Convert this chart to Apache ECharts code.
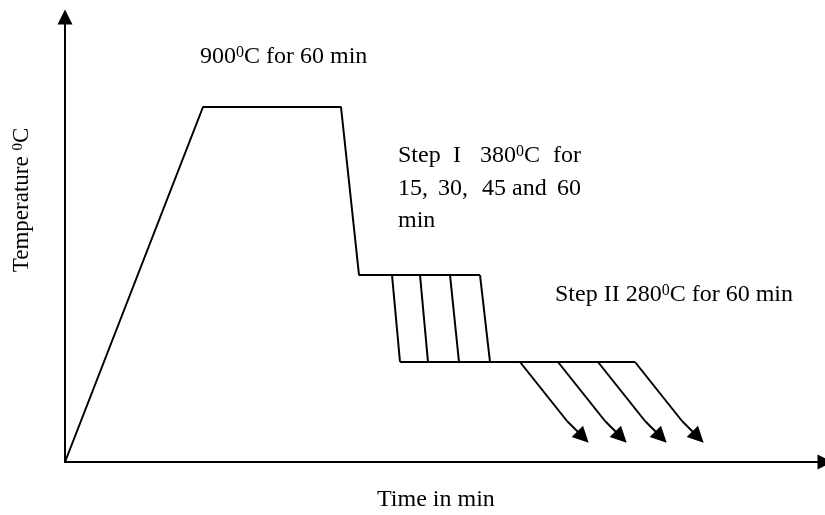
<!DOCTYPE html>
<html>
<head>
<meta charset="utf-8">
<script src="https://cdn.jsdelivr.net/npm/echarts@6/dist/echarts.min.js"></script>
<style>
html,body{margin:0;padding:0;background:#fff;}
#c{width:825px;height:515px;}
</style>
</head>
<body>
<div id="c"></div>
<script>
// Schematic units (time, temperature)
const X_MAX = 760, Y_MAX = 445;
const heatProfile = [[0, 0], [138, 355], [276, 355], [294, 187], [415, 187]];
const stepILevel = 187;
const stepIILevel = 100;
const stepIQuenchTop = [327, 355, 385, 415];
const stepIQuenchBottom = [335, 363, 394, 425];
const stepIIHold = [[335, 100], [570, 100]];
const arrowStart = [455, 493, 533, 570];
const arrowBendDx = 47, arrowBendY = 41;
const arrowHeadDx = 63, arrowHeadY = 25;

const FONT = '"Liberation Serif", "Times New Roman", serif';
const BLACK = '#000';

const series = [];
series.push({
  type: 'line', data: heatProfile, showSymbol: false, silent: true,
  lineStyle: { color: BLACK, width: 2 }
});
stepIQuenchTop.forEach((t, i) => {
  series.push({
    type: 'line', data: [[t, stepILevel], [stepIQuenchBottom[i], stepIILevel]],
    showSymbol: false, silent: true, lineStyle: { color: BLACK, width: 2 }
  });
});
series.push({
  type: 'line', data: stepIIHold, showSymbol: false, silent: true,
  lineStyle: { color: BLACK, width: 2 }
});
arrowStart.forEach(s => {
  series.push({
    type: 'line', data: [[s, stepIILevel], [s + arrowBendDx, arrowBendY]],
    showSymbol: false, silent: true, lineStyle: { color: BLACK, width: 2 }
  });
});
series.push({
  type: 'lines', coordinateSystem: 'cartesian2d', silent: true,
  symbol: ['none', 'triangle'], symbolSize: 16,
  lineStyle: { color: BLACK, width: 2, opacity: 1, curveness: 0 },
  data: arrowStart.map(s => ({ coords: [[s + arrowBendDx, arrowBendY], [s + arrowHeadDx, arrowHeadY]] }))
});

const supRich = {
  a: { fontSize: 24, fontFamily: FONT, color: BLACK },
  s: { fontSize: 16, fontFamily: FONT, color: BLACK, verticalAlign: 'top' }
};
function txt(x, y, text, extra) {
  return Object.assign({
    type: 'text', x: x, y: y, silent: true,
    style: { text: text, fontSize: 24, fontFamily: FONT, fill: BLACK, align: 'left', verticalAlign: 'middle', rich: supRich }
  }, extra || {});
}

const stepIWords = [
  [398, 156, 'Step'], [453, 156, 'I'], [480, 156, '{a|380}{s|0}{a|C}'], [553, 156, 'for'],
  [398, 189, '15,'], [438, 189, '30,'], [482, 189, '45'], [512, 189, 'and'], [557, 189, '60'],
  [398, 221, 'min']
];

const yRich = {
  a: { fontSize: 23, fontFamily: FONT, color: BLACK },
  s: { fontSize: 15, fontFamily: FONT, color: BLACK, verticalAlign: 'top' }
};

const graphic = [
  txt(200, 57, '{a|900}{s|0}{a|C for 60 min}'),
  txt(555, 295, '{a|Step II 280}{s|0}{a|C for 60 min}'),
  txt(377, 500, 'Time in min'),
  { type: 'text', x: 22, y: 200, rotation: Math.PI / 2, silent: true,
    style: { text: '{a|Temperature }{s|0}{a|C}', fill: BLACK, align: 'center', verticalAlign: 'middle', rich: yRich } }
].concat(stepIWords.map(w => txt(w[0], w[1], w[2])));

const chart = echarts.init(document.getElementById('c'), null, { renderer: 'canvas' });
chart.setOption({
  backgroundColor: '#fff',
  animation: false,
  grid: { left: 65, right: 0, top: 17, bottom: 53, containLabel: false },
  xAxis: {
    type: 'value', min: 0, max: X_MAX,
    axisLine: { show: true, symbol: ['none', 'triangle'], symbolSize: [15, 15], lineStyle: { color: BLACK, width: 2 } },
    axisTick: { show: false }, axisLabel: { show: false }, splitLine: { show: false }
  },
  yAxis: {
    type: 'value', min: 0, max: Y_MAX,
    axisLine: { show: true, symbol: ['none', 'triangle'], symbolSize: [15, 15], lineStyle: { color: BLACK, width: 2 } },
    axisTick: { show: false }, axisLabel: { show: false }, splitLine: { show: false }
  },
  series: series,
  graphic: graphic
});
</script>
</body>
</html>
